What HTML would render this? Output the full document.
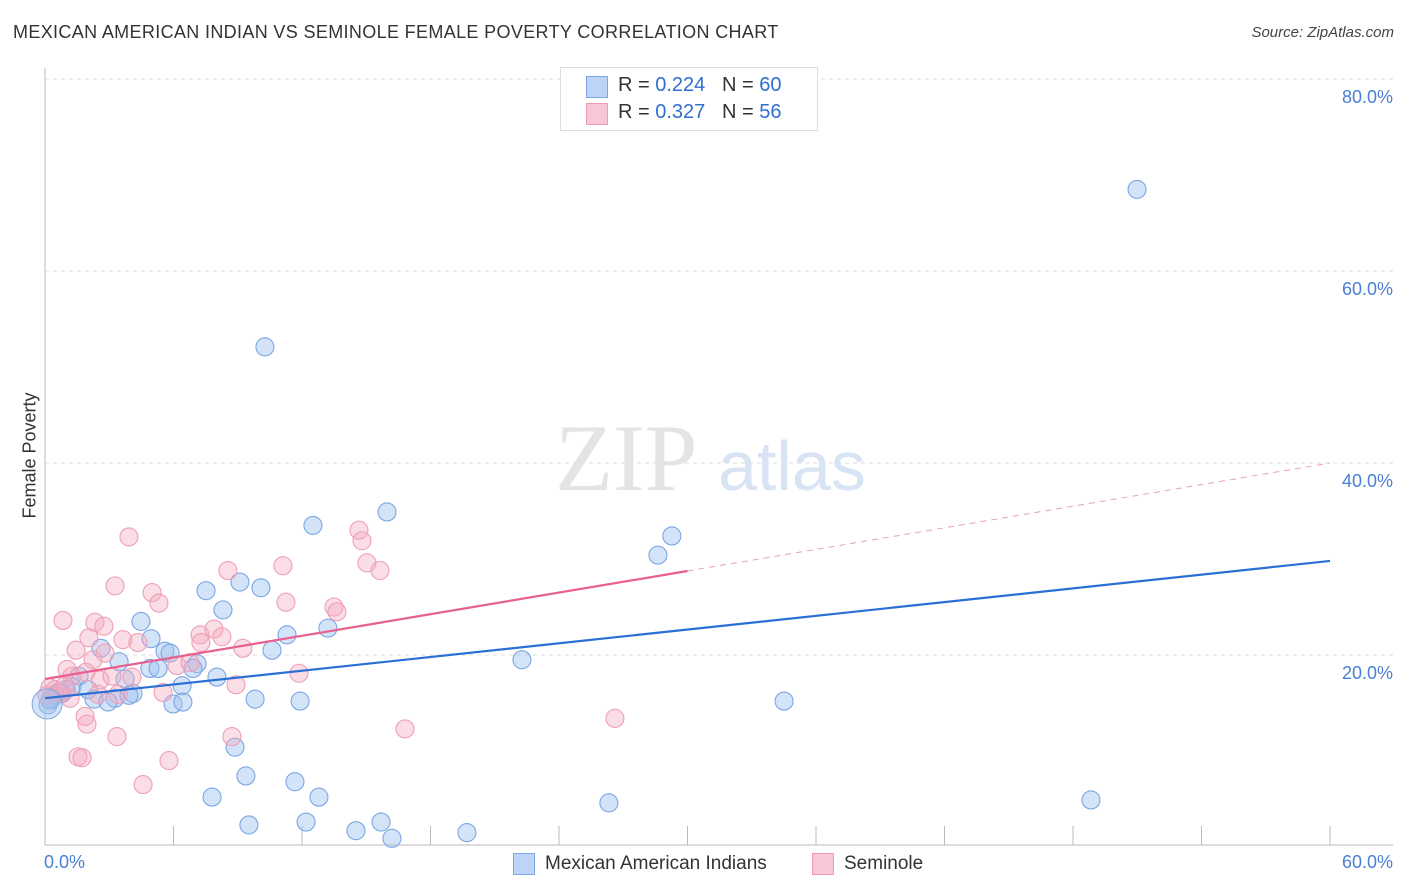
<!DOCTYPE html>
<html><head><meta charset="utf-8"><style>
body{margin:0;background:#fff;font-family:"Liberation Sans",sans-serif;}
#wrap{position:relative;width:1406px;height:892px;overflow:hidden;}
.t{position:absolute;white-space:nowrap;}
</style></head><body>
<div id="wrap">
<div class="t" style="left:13px;top:22px;font-size:18px;letter-spacing:0.35px;color:#333;">MEXICAN AMERICAN INDIAN VS SEMINOLE FEMALE POVERTY CORRELATION CHART</div>
<div class="t" style="right:12px;top:24px;font-size:15px;color:#444;font-style:italic;">Source: ZipAtlas.com</div>
<svg id="svg" width="1406" height="892" style="position:absolute;left:0;top:0"></svg>
</div>
<script>
const xCats=[0,60];
const yTicks=[20,40,60,80];
const yTickLabels=["20.0%","40.0%","60.0%","80.0%"];
const blueX=[50.99,10.27,15.97,12.51,29.27,28.62,9.10,10.08,7.52,8.31,4.48,11.30,13.21,4.95,10.60,5.60,5.84,2.61,3.46,7.10,6.91,4.90,5.28,8.03,6.40,3.74,1.59,1.26,2.01,0.79,2.29,3.27,4.11,3.92,2.94,5.98,6.44,9.81,11.91,22.27,34.51,8.87,9.38,11.67,7.80,12.79,26.33,48.84,9.52,12.19,14.52,15.69,16.20,19.70,0.14,0.33,0.61,0.98,0.47,0.23];
const blueY=[68.5,52.1,34.9,33.5,32.4,30.4,27.6,27.0,26.7,24.7,23.5,22.1,22.8,21.7,20.5,20.4,20.2,20.7,19.3,19.1,18.6,18.6,18.6,17.7,16.8,17.5,17.8,16.7,16.4,16.0,15.4,15.5,16.0,15.8,15.1,14.9,15.1,15.4,15.2,19.5,15.2,10.4,7.4,6.8,5.2,5.2,4.6,4.9,2.3,2.6,1.7,2.6,0.9,1.5,14.8,15.5,16.1,16.4,15.8,15.3];
const pinkX=[3.92,3.27,5.00,5.32,0.84,2.33,2.75,2.05,3.64,4.34,1.45,2.80,2.24,1.03,1.26,1.91,2.57,3.13,4.06,8.54,11.11,11.25,13.49,13.63,14.66,14.80,15.03,15.64,7.24,7.28,7.89,8.26,9.24,6.16,6.77,5.51,8.92,11.86,2.47,3.41,1.17,1.87,1.96,3.36,1.54,1.73,4.58,5.79,8.73,16.81,26.61,0.47,0.70,0.23,0.93,0.09];
const pinkY=[32.3,27.2,26.5,25.4,23.6,23.4,23.0,21.8,21.6,21.3,20.5,20.2,19.5,18.5,17.8,18.2,17.4,17.8,17.7,28.8,29.3,25.5,25.0,24.5,33.0,31.9,29.6,28.8,22.1,21.3,22.7,21.9,20.7,18.9,19.2,16.1,16.9,18.1,15.9,15.9,15.5,13.6,12.8,11.5,9.4,9.3,6.5,9.0,11.5,12.3,13.4,16.4,16.0,16.6,16.8,15.8];
const blueTrend=[15.5,29.8];
const pinkTrend=[17.5,40.0];

const X=v=>45+v/60*1285;
const Y=v=>847-v*9.6;
const svg=document.getElementById('svg');
const NS='http://www.w3.org/2000/svg';
function mk(tag,attrs){const e=document.createElementNS(NS,tag);for(const k in attrs)e.setAttribute(k,attrs[k]);svg.appendChild(e);return e;}
yTicks.forEach((t,i)=>{
 const g=mk('line',{x1:45,x2:1393,y1:Y(t),y2:Y(t),stroke:'#ddd','stroke-dasharray':'4,4'});
 
 
 const tx=mk('text',{x:1393,y:Y(t)+24,'text-anchor':'end','font-size':18,fill:'#4a7fd4','font-family':'Liberation Sans'});
 tx.textContent=yTickLabels[i];
 
 
});
let a=mk('line',{x1:45,x2:1393,y1:845,y2:845,stroke:'#bbb'});


a=mk('line',{x1:45,x2:45,y1:68,y2:845,stroke:'#bbb'});


for(let i=1;i<=10;i++){const tk=mk('line',{x1:X(i*6),x2:X(i*6),y1:826,y2:845,stroke:'#bbb'});
 
 }
let wm=mk('text',{x:555,y:490,'font-size':95,fill:'#e4e4e4','font-family':'Liberation Serif'});wm.textContent='ZIP';


wm=mk('text',{x:718,y:490,'font-size':70,fill:'#d8e4f4','font-family':'Liberation Sans'});wm.textContent='atlas';


function dots(xs,ys,fill,stroke,name){xs.forEach((x,i)=>{const c=mk('circle',{cx:X(x),cy:Y(ys[i]),r:9,fill:fill,stroke:stroke,'stroke-width':1.1});
 
 });}
dots(blueX,blueY,'rgba(160,196,240,0.45)','#7aa6e4','mexican-point');
dots(pinkX,pinkY,'rgba(245,170,192,0.4)','#ee9fb6','seminole-point');
let big=mk('circle',{cx:X(0.1),cy:Y(14.9),r:15,fill:'rgba(160,196,240,0.45)',stroke:'#7aa6e4'});


let l=mk('line',{x1:X(0),y1:Y(blueTrend[0]),x2:X(60),y2:Y(blueTrend[1]),stroke:'#2a6fd6','stroke-width':2.2});


const pm=pinkTrend[0]+(pinkTrend[1]-pinkTrend[0])*0.5;
l=mk('line',{x1:X(0),y1:Y(pinkTrend[0]),x2:X(30),y2:Y(pm),stroke:'#e8608e','stroke-width':2.2});


l=mk('line',{x1:X(30),y1:Y(pm),x2:X(60),y2:Y(pinkTrend[1]),stroke:'#e8a0b8','stroke-width':1,'stroke-dasharray':'6,5'});


</script>
<div class="t" style="left:44px;top:852px;font-size:18px;color:#4a7fd4;">0.0%</div>
<div class="t" style="right:13px;top:852px;font-size:18px;color:#4a7fd4;">60.0%</div>
<div class="t" style="left:-33px;top:445px;font-size:18px;color:#333;transform:rotate(-90deg);">Female Poverty</div>
<div style="position:absolute;left:560px;top:67px;width:256px;height:62px;border:1px solid #ddd;background:#fff;font-size:20px;">
 <div style="position:absolute;left:25px;top:8px;width:20px;height:20px;background:#bcd4f6;border:1px solid #7aa6e4;"></div>
 <div class="t" style="left:57px;top:6px;color:#333;">R = <span style="color:#2f6fd0">0.224</span>&nbsp;&nbsp;&nbsp;N = <span style="color:#2f6fd0">60</span></div>
 <div style="position:absolute;left:25px;top:35px;width:20px;height:20px;background:#f8c6d4;border:1px solid #ec9bb2;"></div>
 <div class="t" style="left:57px;top:33px;color:#333;">R = <span style="color:#2f6fd0">0.327</span>&nbsp;&nbsp;&nbsp;N = <span style="color:#2f6fd0">56</span></div>
</div>
<div style="position:absolute;left:513px;top:853px;font-size:19px;color:#333;">
 <div style="position:absolute;left:0;top:0;width:20px;height:20px;background:#bcd4f6;border:1px solid #7aa6e4;"></div>
 <div class="t" style="left:32px;top:0;">Mexican American Indians</div></div>
<div style="position:absolute;left:812px;top:853px;font-size:19px;color:#333;">
 <div style="position:absolute;left:0;top:0;width:20px;height:20px;background:#f8c6d4;border:1px solid #ec9bb2;"></div>
 <div class="t" style="left:32px;top:0;">Seminole</div></div>
</body></html>
